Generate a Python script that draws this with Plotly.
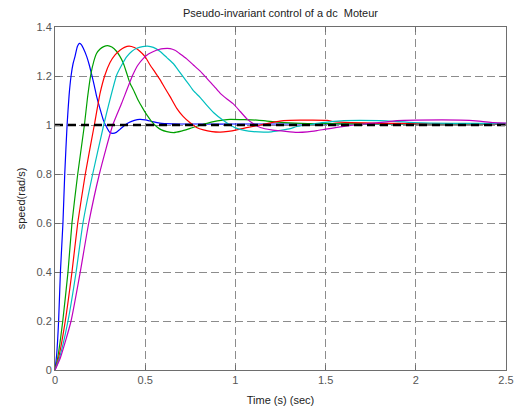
import plotly.graph_objects as go

# ---- data ----
blue_t = [0, 0.009, 0.02, 0.03, 0.044, 0.054, 0.067, 0.078, 0.089, 0.1, 0.111, 0.124, 0.135, 0.146, 0.157,
          0.176, 0.19, 0.204, 0.218, 0.231, 0.25, 0.268, 0.287, 0.305, 0.32, 0.34, 0.36, 0.38, 0.41, 0.44,
          0.47, 0.5, 0.54, 0.58, 0.65, 0.8, 1.0, 1.5, 2.0, 2.5]
blue_y = [0, 0.06, 0.2, 0.4, 0.6, 0.8, 1.0, 1.12, 1.2, 1.25, 1.28, 1.32, 1.333, 1.328, 1.313,
          1.279, 1.245, 1.204, 1.16, 1.116, 1.065, 1.02, 0.99, 0.969, 0.966, 0.97, 0.982, 0.995, 1.01, 1.019,
          1.023, 1.021, 1.014, 1.008, 1.005, 1.004, 1.004, 1.004, 1.004, 1.004]

green_t = [0, 0.015, 0.043, 0.072, 0.094, 0.126, 0.163, 0.18, 0.198, 0.215, 0.231, 0.25, 0.27, 0.292, 0.315,
           0.342, 0.36, 0.379, 0.398, 0.416, 0.44, 0.462, 0.485, 0.509, 0.535, 0.564, 0.59, 0.62, 0.657, 0.7,
           0.749, 0.8, 0.879, 0.93, 0.971, 1.05, 1.12, 1.175, 1.27, 1.4, 1.6, 2.0, 2.5]
green_y = [0, 0.05, 0.2, 0.4, 0.6, 0.8, 1.0, 1.11, 1.204, 1.26, 1.293, 1.31, 1.32, 1.324, 1.318,
           1.30, 1.28, 1.252, 1.21, 1.17, 1.135, 1.10, 1.07, 1.041, 1.015, 0.993, 0.98, 0.973, 0.969, 0.975,
           0.986, 0.998, 1.014, 1.02, 1.023, 1.022, 1.02, 1.016, 1.01, 1.006, 1.005, 1.005, 1.005]

red_t = [0, 0.02, 0.057, 0.094, 0.126, 0.168, 0.218, 0.25, 0.277, 0.305, 0.333, 0.36, 0.385, 0.411,
         0.44, 0.472, 0.5, 0.527, 0.555, 0.583, 0.61, 0.638, 0.675, 0.71, 0.749, 0.785, 0.823, 0.87, 0.916,
         0.96, 1.008, 1.07, 1.138, 1.2, 1.267, 1.36, 1.51, 1.545, 1.64, 1.8, 2.0, 2.5]
red_y = [0, 0.05, 0.2, 0.4, 0.6, 0.8, 1.0, 1.13, 1.204, 1.255, 1.286, 1.305, 1.317, 1.322,
         1.316, 1.30, 1.278, 1.245, 1.215, 1.184, 1.15, 1.116, 1.068, 1.035, 1.009, 0.99, 0.98, 0.973, 0.971,
         0.974, 0.98, 0.99, 1.0, 1.01, 1.018, 1.02, 1.019, 1.014, 1.01, 1.007, 1.006, 1.006]

cyan_t = [0, 0.025, 0.072, 0.117, 0.155, 0.209, 0.27, 0.3, 0.342, 0.37, 0.398, 0.425, 0.453, 0.485, 0.512,
          0.545, 0.583, 0.62, 0.657, 0.685, 0.712, 0.74, 0.767, 0.805, 0.842, 0.88, 0.93, 0.97, 1.008, 1.05,
          1.1, 1.156, 1.2, 1.249, 1.304, 1.341, 1.4, 1.452, 1.52, 1.6, 1.8, 1.99, 2.2, 2.5]
cyan_y = [0, 0.05, 0.2, 0.4, 0.6, 0.8, 1.0, 1.09, 1.204, 1.245, 1.279, 1.30, 1.313, 1.32, 1.322,
          1.317, 1.30, 1.275, 1.25, 1.222, 1.195, 1.168, 1.14, 1.112, 1.08, 1.05, 1.02, 1.0, 0.986, 0.978,
          0.973, 0.971, 0.972, 0.978, 0.985, 0.994, 1.0, 1.007, 1.013, 1.018, 1.018, 1.01, 1.007, 1.007]

magenta_t = [0, 0.03, 0.089, 0.14, 0.187, 0.246, 0.32, 0.37, 0.431, 0.46, 0.49, 0.518, 0.546, 0.575, 0.601,
             0.638, 0.665, 0.694, 0.73, 0.767, 0.805, 0.842, 0.88, 0.916, 0.955, 0.99, 1.027, 1.064, 1.1, 1.138,
             1.2, 1.267, 1.341, 1.4, 1.452, 1.5, 1.563, 1.64, 1.71, 1.78, 1.84, 1.896, 2.0, 2.248, 2.35, 2.43, 2.5]
magenta_y = [0, 0.05, 0.2, 0.4, 0.6, 0.8, 1.0, 1.09, 1.204, 1.245, 1.272, 1.29, 1.30, 1.308, 1.312,
             1.312, 1.305, 1.29, 1.27, 1.245, 1.22, 1.19, 1.16, 1.129, 1.105, 1.085, 1.055, 1.025, 1.005, 0.99,
             0.98, 0.975, 0.97, 0.972, 0.977, 0.983, 0.99, 0.998, 1.004, 1.009, 1.013, 1.018, 1.02, 1.02, 1.016, 1.01, 1.008]

ref_t = [0, 2.5]
ref_y = [1, 1]

x_ticks = [0, 0.5, 1, 1.5, 2, 2.5]
x_tick_text = ["0", "0.5", "1", "1.5", "2", "2.5"]
y_ticks = [0, 0.2, 0.4, 0.6, 0.8, 1, 1.2, 1.4]
y_tick_text = ["0", "0.2", "0.4", "0.6", "0.8", "1", "1.2", "1.4"]

series = [
    (blue_t, blue_y, "#0000ff"),
    (green_t, green_y, "#00a000"),
    (red_t, red_y, "#ff0000"),
    (cyan_t, cyan_y, "#00bfbf"),
    (magenta_t, magenta_y, "#bf00bf"),
]

fig = go.Figure()
for t, y, c in series:
    fig.add_trace(go.Scatter(x=t, y=y, mode="lines",
                             line=dict(color=c, width=1.2, shape="spline", smoothing=0.5),
                             showlegend=False, hoverinfo="skip"))

fig.add_trace(go.Scatter(x=ref_t, y=ref_y, mode="lines",
                         line=dict(color="black", width=2.5, dash="8px,5px"),
                         showlegend=False, hoverinfo="skip"))

axis_common = dict(
    showline=True, linecolor="#6e6e6e", linewidth=1, mirror="ticks",
    ticks="inside", ticklen=5, tickcolor="#6e6e6e",
    showgrid=True, gridcolor="#8c8c8c", gridwidth=1, griddash="8px,4px",
    zeroline=False, automargin=False,
    tickfont=dict(family="Liberation Sans, Arial", size=11, color="#555555"),
)

fig.update_xaxes(range=[0, 2.5], tickvals=x_ticks, ticktext=x_tick_text,
                 title=dict(text="Time (s) (sec)", standoff=11,
                            font=dict(family="Liberation Sans, Arial", size=11, color="#222222")),
                 **axis_common)
fig.update_yaxes(range=[0, 1.4], tickvals=y_ticks, ticktext=y_tick_text,
                 title=dict(text="speed(rad/s)", standoff=8,
                            font=dict(family="Liberation Sans, Arial", size=11, color="#222222")),
                 **axis_common)

fig.update_layout(
    width=517, height=407,
    margin=dict(l=55, r=11, t=27, b=37, pad=0),
    paper_bgcolor="white", plot_bgcolor="white",
    title=dict(text="Pseudo-invariant control of a dc  Moteur", x=0.5, xref="paper", xanchor="center",
               y=1 - 13 / 407, yref="container", yanchor="middle",
               font=dict(family="Liberation Sans, Arial", size=11, color="#222222")),
)

fig.write_html("out.html")
